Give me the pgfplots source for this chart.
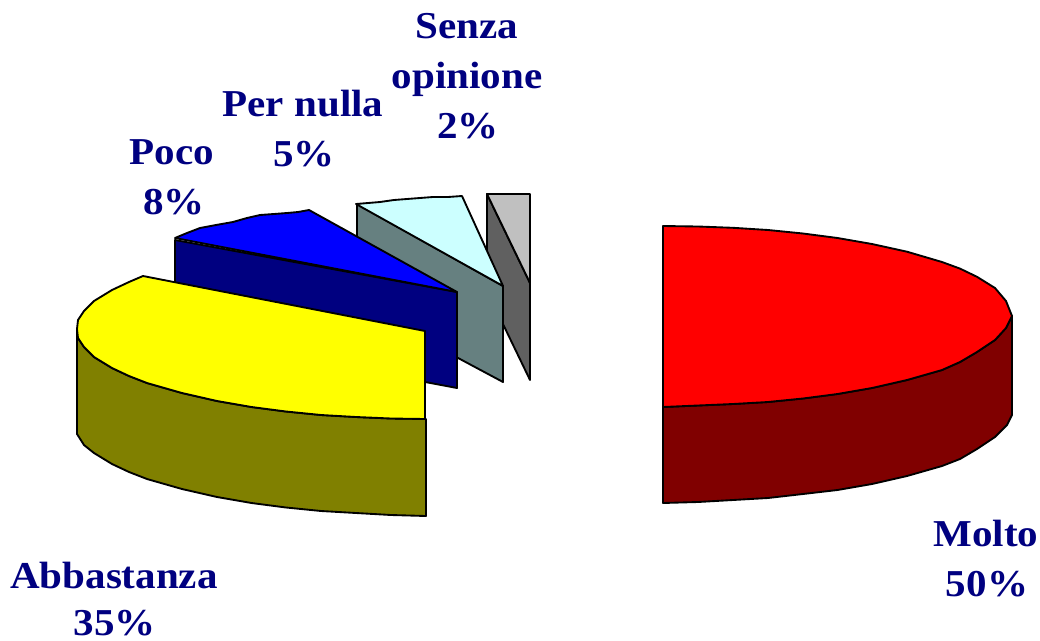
\documentclass[border=0pt]{standalone}
\usepackage{fontspec}
\setmainfont{Liberation Serif}[BoldFont={Liberation Serif Bold},BoldFeatures={FakeStretch=1.08}]
\usepackage{pgfplots}
\pgfplotsset{compat=1.18}
\definecolor{lab}{HTML}{000080}
\definecolor{tealside}{HTML}{668080}
\newcommand{\lab}[3]{\node[anchor=base,text=lab,inner sep=0pt,font=\fontsize{28.5}{30}\selectfont\bfseries] at (axis cs:#1,#2) {#3};}
\begin{document}
\begin{tikzpicture}
\useasboundingbox (0,0) rectangle (780pt,480pt);
\begin{axis}[at={(0,0)},anchor=south west,scale only axis,width=780pt,height=480pt,xmin=0,xmax=1040,ymin=0,ymax=640,y dir=reverse,hide axis,clip=false,
  every axis plot/.append style={draw=black,line width=1.4pt,line join=round}]
% Senza opinione
\addplot[fill={rgb,255:red,96;green,96;blue,96}] coordinates {(487,194) (530,283) (530,380) (487,291)} --cycle;
\addplot[fill={rgb,255:red,192;green,192;blue,192}] coordinates {(487,194) (530,194) (530,283)} --cycle;
% Per nulla
\addplot[fill=tealside] coordinates {(357,204) (503,286) (503,382) (357,304)} --cycle;
\addplot[fill={rgb,255:red,204;green,255;blue,255}] coordinates {(356,204) (368,203) (380,202) (394,200) (407,199) (420,198) (433,197) (448,197) (462,196) (503,286)} --cycle;
% Poco
\addplot[fill={rgb,255:red,0;green,0;blue,128}] coordinates {(175,240) (457,292) (457,388) (175,335)} --cycle;
\addplot[fill={rgb,255:red,0;green,0;blue,255}] coordinates {(175,238) (187,233) (200,228) (216,225) (233,222) (247,218) (260,215) (274,214) (287,213) (298,212) (309,210) (457,292)} --cycle;
% Abbastanza
\addplot[fill={rgb,255:red,128;green,128;blue,0}] coordinates {(77,329) (77,434) (84,445) (94,453) (112,464) (129,472) (147,479) (182,489) (217,497) (251.5,503) (286,507.5) (321,511) (356,513) (391,515) (426,516) (426,419) (391,418.5) (356,417) (321,415) (286,411.5) (251.5,407) (217,401) (182,393) (147,383) (129,376) (112,368) (94,357) (84,347) (78,338)} --cycle;
\addplot[fill={rgb,255:red,255;green,255;blue,0}] coordinates {(143,276) (425,331) (425,419) (391,418.5) (356,417) (321,415) (286,411.5) (251.5,407) (217,401) (182,393) (147,383) (129,376) (112,368) (94,357) (84,347) (78,338) (77,329) (78,320) (84,311) (94,301) (112,290) (129,282)} --cycle;
% Molto
\addplot[fill={rgb,255:red,128;green,0;blue,0}] coordinates {(663,407) (663,503) (698,502) (733,500) (768,498) (803,494) (837.5,490) (872,484) (907,476) (942,466) (960,459) (977,449) (995,437) (1007,425) (1012,415) (1012,316) (1006,328) (995,340) (977,352) (960,362) (942,370) (907,380) (872,388) (837.5,394) (803,398.5) (768,402) (733,404) (698,405.5)} --cycle;
\addplot[fill={rgb,255:red,255;green,0;blue,0}] coordinates {(663,226) (698,226.5) (733,227.8) (768,230) (803,233.5) (837.5,238) (872,244) (907,251.7) (942,262) (960,268.6) (977,276.8) (995,288) (1006,301) (1012,316) (1006,328) (995,340) (977,352) (960,362) (942,370) (907,380) (872,388) (837.5,394) (803,398.5) (768,402) (733,404) (698,405.5) (663,407)} --cycle;
\lab{467}{38}{Senza}
\lab{467}{88}{opinione}
\lab{468}{138}{2\%}
\lab{303}{116}{Per nulla}
\lab{304}{166}{5\%}
\lab{172}{164}{Poco}
\lab{174}{214}{8\%}
\lab{986}{546}{Molto}
\lab{987}{596}{50\%}
\lab{114}{588}{Abbastanza}
\lab{115}{635}{35\%}
\end{axis}
\end{tikzpicture}
\end{document}
